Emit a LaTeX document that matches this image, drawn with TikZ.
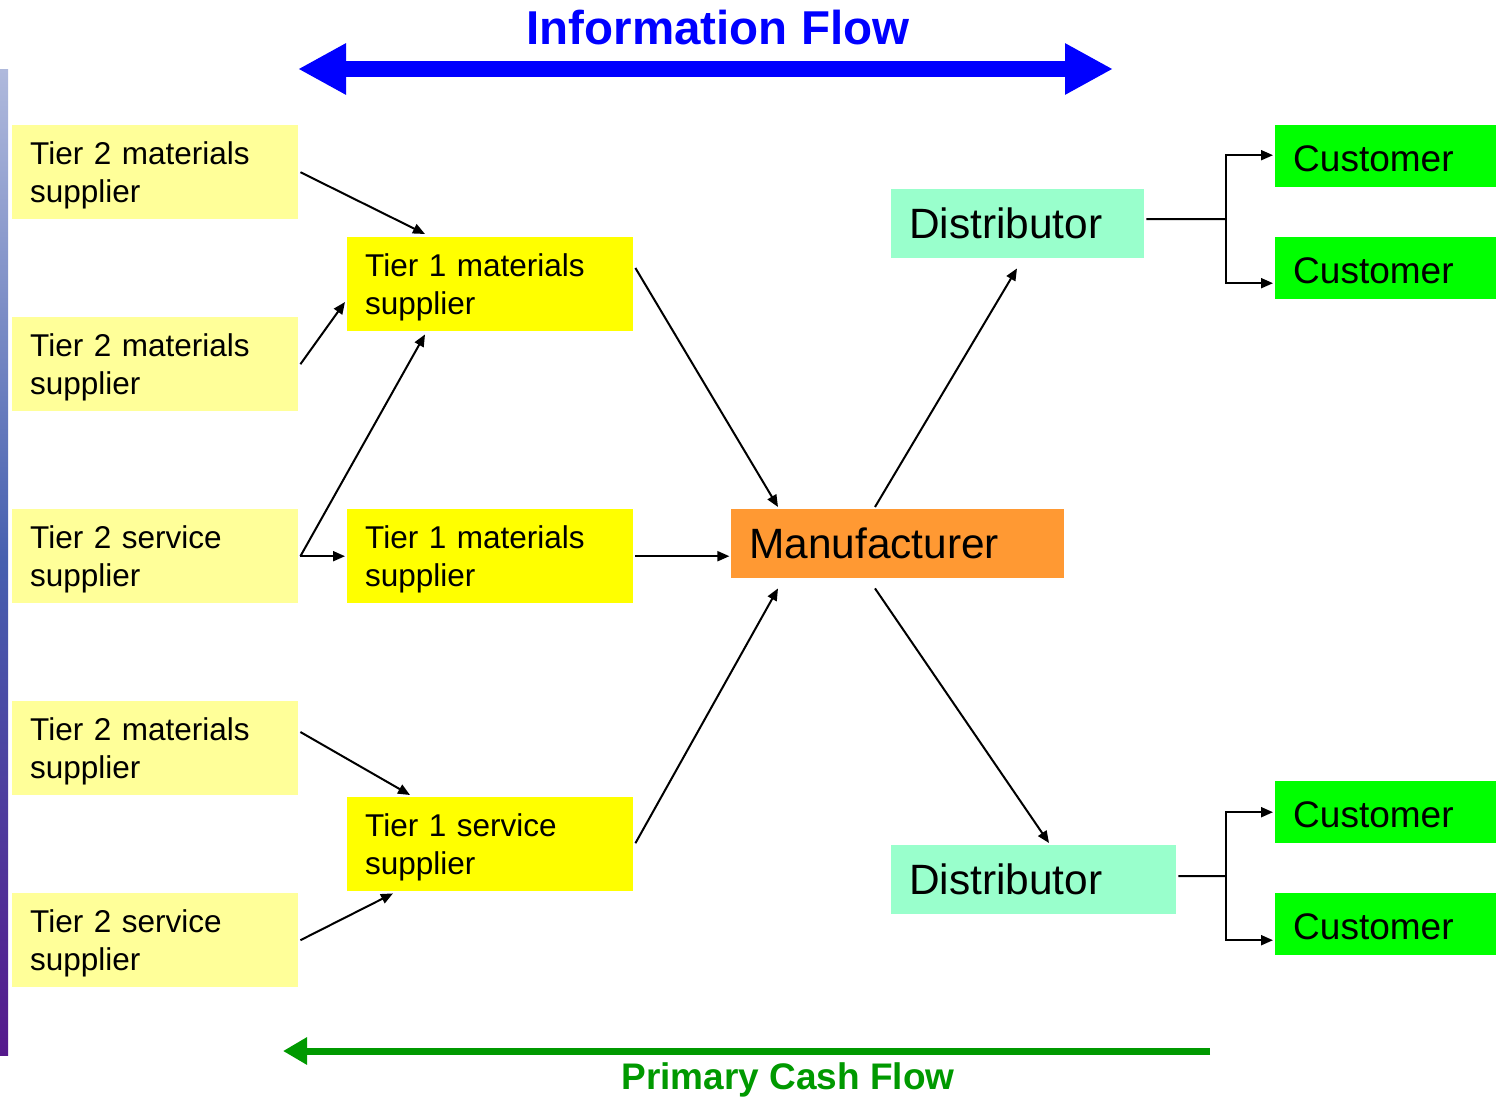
\documentclass[tikz,border=0pt]{standalone}
\usepackage{fontspec}
\setmainfont{Liberation Sans}
\usetikzlibrary{arrows.meta,calc}
\definecolor{paley}{RGB}{255,255,153}
\definecolor{yel}{RGB}{255,255,0}
\definecolor{orng}{RGB}{255,153,51}
\definecolor{mint}{RGB}{153,255,204}
\definecolor{grn}{RGB}{0,255,0}
\definecolor{cashgreen}{RGB}{0,153,0}
\definecolor{infoblue}{RGB}{0,0,255}
\newcommand{\dnshift}{\rule{0pt}{29pt}}
\begin{document}
\begin{tikzpicture}[x=1pt,y=-1pt,
  boxbase/.style={rectangle, anchor=north west, inner xsep=18pt, inner ysep=0pt, align=left},
  smallbox/.style={boxbase, minimum height=94pt, text width=250pt, font=\fontsize{31.5}{38}\selectfont},
  tiertwo/.style={smallbox, fill=paley},
  tierone/.style={smallbox, fill=yel},
  bigbox/.style={boxbase, minimum height=69pt, font=\fontsize{42.4}{50}\selectfont},
  custbox/.style={boxbase, fill=grn, minimum height=62pt, text width=185pt, font=\fontsize{37}{44}\selectfont},
  conn/.style={draw=black, line width=2pt, -{Triangle[length=12pt,width=10pt]}},
  plainline/.style={draw=black, line width=2pt}
]
\useasboundingbox (0,0) rectangle (1503,1099);
% left decorative stripe
\shade[top color={rgb,255:red,175;green,185;blue,220}, bottom color={rgb,255:red,85;green,25;blue,140}, middle color={rgb,255:red,70;green,95;blue,175}] (0,70) rectangle (8,1055);

% title arrows
\node[font=\bfseries\fontsize{47.5}{56}\selectfont, text=infoblue] (info) at (718,28) {Information Flow};
\coordinate (infoL) at (298,69);
\coordinate (infoR) at (1113,69);
\draw[infoblue, line width=16pt, {Triangle[length=48pt,width=48pt]}-{Triangle[length=48pt,width=48pt]}] (infoL) -- (infoR);

\node[font=\bfseries\fontsize{37}{44}\selectfont, text=cashgreen] (cash) at (788,1080) {Primary Cash Flow};
\coordinate (cashR) at (1210,1051);
\coordinate (cashL) at (283,1051);
\draw[cashgreen, line width=7pt, -{Triangle[length=24pt,width=26pt]}] (cashR) -- (cashL);

% tier 2
\node[tiertwo] (t2a) at (12,125) {\dnshift Tier 2 materials\\supplier};
\node[tiertwo] (t2b) at (12,317) {\dnshift Tier 2 materials\\supplier};
\node[tiertwo] (t2c) at (12,509) {\dnshift Tier 2 service\\supplier};
\node[tiertwo] (t2d) at (12,701) {\dnshift Tier 2 materials\\supplier};
\node[tiertwo] (t2e) at (12,893) {\dnshift Tier 2 service\\supplier};
% tier 1
\node[tierone] (t1a) at (347,237) {\dnshift Tier 1 materials\\supplier};
\node[tierone] (t1b) at (347,509) {\dnshift Tier 1 materials\\supplier};
\node[tierone] (t1s) at (347,797) {\dnshift Tier 1 service\\supplier};
% manufacturer & distributors
\node[bigbox, fill=orng, text width=297pt] (mfg) at (731,509) {Manufacturer};
\node[bigbox, fill=mint, text width=217pt] (d1) at (891,189) {Distributor};
\node[bigbox, fill=mint, text width=249pt] (d2) at (891,845) {Distributor};
% customers
\node[custbox] (c1) at (1275,125) {\rule{0pt}{30pt}Customer};
\node[custbox] (c2) at (1275,237) {\rule{0pt}{30pt}Customer};
\node[custbox] (c3) at (1275,781) {\rule{0pt}{30pt}Customer};
\node[custbox] (c4) at (1275,893) {\rule{0pt}{30pt}Customer};

% connectors
\draw[conn] ($(t2a.east)+(2,0)$) -- ($(t1a.north west)+(78,-3)$);
\draw[conn] ($(t2b.east)+(2,0)$) -- ($(t1a.north west)+(-2,65)$);
\draw[conn] ($(t2c.east)+(2,0)$) -- ($(t1a.south west)+(78,3)$);
\draw[conn] ($(t2c.east)+(2,0)$) -- ($(t1b.west)+(-2,0)$);
\draw[conn] ($(t2d.north east)+(2,31)$) -- ($(t1s.north west)+(63,-2)$);
\draw[conn] ($(t2e.east)+(2,0)$) -- ($(t1s.south west)+(46,2)$);
\draw[conn] ($(t1a.north east)+(2,31)$) -- ($(mfg.north west)+(47,-2)$);
\draw[conn] ($(t1b.east)+(2,0)$) -- ($(t1b.east)+(96,0)$);
\draw[conn] ($(t1s.east)+(2,-1)$) -- ($(mfg.south west)+(47,10)$);
\draw[conn] ($(mfg.north west)+(144,-2)$) -- ($(d1.south west)+(126,10)$);
\draw[conn] ($(mfg.south west)+(144,10)$) -- ($(d2.north west)+(158,-2)$);

\coordinate (b1) at (1226,219);
\coordinate (b2) at (1226,876);
\draw[plainline] ($(d1.east)+(2,-4.5)$) -- (b1);
\draw[conn, shorten >=2pt] (b1) |- ($(c1.west)+(0,-1)$);
\draw[conn, shorten >=2pt] (b1) |- ($(c2.west)+(0,15)$);
\draw[plainline] ($(d2.east)+(2,-3.5)$) -- (b2);
\draw[conn, shorten >=2pt] (b2) |- (c3.west);
\draw[conn, shorten >=2pt] (b2) |- ($(c4.west)+(0,16)$);
\end{tikzpicture}
\end{document}
